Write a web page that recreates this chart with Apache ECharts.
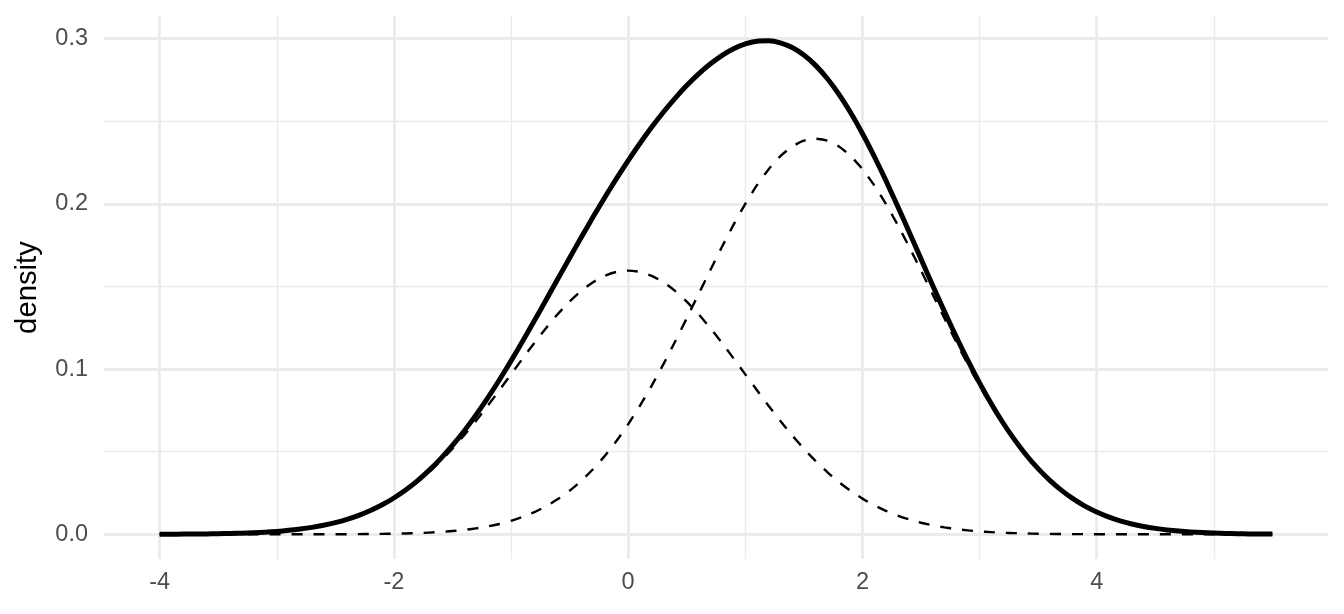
<!DOCTYPE html>
<html>
<head>
<meta charset="utf-8">
<script src="https://cdn.jsdelivr.net/npm/echarts@6/dist/echarts.min.js"></script>
<style>
html,body{margin:0;padding:0;background:#fff;}
#chart{width:1344px;height:614px;}
</style>
</head>
<body>
<div id="chart"></div>
<script>
// x positions of the sampled curve points
var xValues = [
  -4.0, -3.9, -3.8, -3.7, -3.6, -3.5, -3.4, -3.3, -3.2, -3.1,
  -3.0, -2.9, -2.8, -2.7, -2.6, -2.5, -2.4, -2.3, -2.2, -2.1,
  -2.0, -1.9, -1.8, -1.7, -1.6, -1.5, -1.4, -1.3, -1.2, -1.1,
  -1.0, -0.9, -0.8, -0.7, -0.6, -0.5, -0.4, -0.3, -0.2, -0.1,
  0.0, 0.1, 0.2, 0.3, 0.4, 0.5, 0.6, 0.7, 0.8, 0.9,
  1.0, 1.1, 1.2, 1.3, 1.4, 1.5, 1.6, 1.7, 1.8, 1.9,
  2.0, 2.1, 2.2, 2.3, 2.4, 2.5, 2.6, 2.7, 2.8, 2.9,
  3.0, 3.1, 3.2, 3.3, 3.4, 3.5, 3.6, 3.7, 3.8, 3.9,
  4.0, 4.1, 4.2, 4.3, 4.4, 4.5, 4.6, 4.7, 4.8, 4.9,
  5.0, 5.1, 5.2, 5.3, 5.4, 5.5];
// total mixture density (solid)
var totalDensity = [
  0.00005, 0.00008, 0.00012, 0.00017, 0.00024, 0.00035, 0.00049, 0.00069, 0.00095, 0.00131,
  0.00177, 0.00239, 0.00318, 0.00419, 0.00547, 0.00706, 0.00904, 0.01145, 0.01437, 0.01785,
  0.02197, 0.02677, 0.03232, 0.03865, 0.04580, 0.05377, 0.06255, 0.07212, 0.08242, 0.09339,
  0.10494, 0.11695, 0.12932, 0.14190, 0.15458, 0.16722, 0.17970, 0.19193, 0.20379, 0.21521,
  0.22613, 0.23649, 0.24626, 0.25538, 0.26382, 0.27154, 0.27847, 0.28455, 0.28970, 0.29378,
  0.29673, 0.29838, 0.29863, 0.29738, 0.29452, 0.28998, 0.28374, 0.27579, 0.26621, 0.25508,
  0.24256, 0.22883, 0.21413, 0.19868, 0.18278, 0.16666, 0.15061, 0.13488, 0.11968, 0.10520,
  0.09161, 0.07902, 0.06750, 0.05712, 0.04786, 0.03972, 0.03263, 0.02656, 0.02141, 0.01708,
  0.01349, 0.01056, 0.00817, 0.00627, 0.00476, 0.00358, 0.00266, 0.00196, 0.00143, 0.00103,
  0.00074, 0.00052, 0.00037, 0.00026, 0.00018, 0.00012];
// first component (dashed, centred at 0)
var component1 = [
  0.00005, 0.00008, 0.00012, 0.00017, 0.00024, 0.00035, 0.00049, 0.00069, 0.00095, 0.00131,
  0.00177, 0.00238, 0.00317, 0.00417, 0.00543, 0.00701, 0.00896, 0.01133, 0.01419, 0.01759,
  0.02160, 0.02625, 0.03158, 0.03762, 0.04437, 0.05181, 0.05989, 0.06855, 0.07767, 0.08714,
  0.09679, 0.10643, 0.11588, 0.12490, 0.13329, 0.14083, 0.14731, 0.15256, 0.15642, 0.15878,
  0.15958, 0.15878, 0.15642, 0.15256, 0.14731, 0.14083, 0.13329, 0.12490, 0.11588, 0.10643,
  0.09679, 0.08714, 0.07767, 0.06855, 0.05989, 0.05181, 0.04437, 0.03762, 0.03158, 0.02625,
  0.02160, 0.01759, 0.01419, 0.01133, 0.00896, 0.00701, 0.00543, 0.00417, 0.00317, 0.00238,
  0.00177, 0.00131, 0.00095, 0.00069, 0.00049, 0.00035, 0.00024, 0.00017, 0.00012, 0.00008,
  0.00005, 0.00004, 0.00002, 0.00002, 0.00001, 0.00001, 0, 0, 0, 0,
  0, 0, 0, 0, 0, 0];
// second component (dashed, centred near 1.6)
var component2 = [
  0, 0, 0, 0, 0, 0, 0, 0, 0, 0,
  0, 0.00001, 0.00001, 0.00002, 0.00004, 0.00005, 0.00008, 0.00012, 0.00018, 0.00026,
  0.00037, 0.00052, 0.00074, 0.00103, 0.00143, 0.00196, 0.00266, 0.00357, 0.00475, 0.00625,
  0.00815, 0.01052, 0.01344, 0.01700, 0.02129, 0.02639, 0.03239, 0.03937, 0.04737, 0.05643,
  0.06655, 0.07771, 0.08984, 0.10282, 0.11651, 0.13071, 0.14518, 0.15965, 0.17382, 0.18735,
  0.19994, 0.21124, 0.22096, 0.22883, 0.23463, 0.23817, 0.23937, 0.23817, 0.23463, 0.22883,
  0.22096, 0.21124, 0.19994, 0.18735, 0.17382, 0.15965, 0.14518, 0.13071, 0.11651, 0.10282,
  0.08984, 0.07771, 0.06655, 0.05643, 0.04737, 0.03937, 0.03239, 0.02639, 0.02129, 0.01700,
  0.01344, 0.01052, 0.00815, 0.00625, 0.00475, 0.00357, 0.00266, 0.00196, 0.00143, 0.00103,
  0.00074, 0.00052, 0.00037, 0.00026, 0.00018, 0.00012];
// tick labels / grid positions
var xMajorTicks = [-4, -2, 0, 2, 4];
var xMinorTicks = [-3, -1, 1, 3, 5];
var yMajorTicks = [0, 0.1, 0.2, 0.3];
var yMinorTicks = [0.05, 0.15, 0.25];

function pairs(ys) {
  return xValues.map(function (x, i) { return [x, ys[i]]; });
}

var gridColor = '#EBEBEB';
var gridLines = [];
xMinorTicks.forEach(function (v) { gridLines.push({ xAxis: v, lineStyle: { width: 1.4, color: gridColor, type: 'solid' } }); });
yMinorTicks.forEach(function (v) { gridLines.push({ yAxis: v, lineStyle: { width: 1.4, color: gridColor, type: 'solid' } }); });
xMajorTicks.forEach(function (v) { gridLines.push({ xAxis: v, lineStyle: { width: 2.8, color: gridColor, type: 'solid' } }); });
yMajorTicks.forEach(function (v) { gridLines.push({ yAxis: v, lineStyle: { width: 2.8, color: gridColor, type: 'solid' } }); });

var chart = echarts.init(document.getElementById('chart'), null, { renderer: 'canvas' });
var labelFont = 'Liberation Sans, Arial, Helvetica, sans-serif';
chart.setOption({
  animation: false,
  backgroundColor: '#ffffff',
  grid: { left: 104, right: 16, top: 16, bottom: 55, containLabel: false, outerBoundsMode: 'none' },
  xAxis: {
    type: 'value',
    min: -4.475,
    max: 5.975,
    axisLine: { show: false },
    axisTick: { show: false },
    splitLine: { show: false },
    axisLabel: {
      customValues: xMajorTicks,
      color: '#4D4D4D',
      fontSize: 23.5,
      fontFamily: labelFont,
      margin: 12,
      showMinLabel: true,
      showMaxLabel: true,
      formatter: function (v) { return String(v); }
    }
  },
  yAxis: {
    type: 'value',
    min: -0.01494,
    max: 0.31362,
    name: 'density',
    nameLocation: 'middle',
    nameGap: 62,
    nameTextStyle: { color: '#000000', fontSize: 29.3, fontFamily: labelFont },
    axisLine: { show: false },
    axisTick: { show: false },
    splitLine: { show: false },
    axisLabel: {
      customValues: yMajorTicks,
      color: '#4D4D4D',
      fontSize: 23.5,
      fontFamily: labelFont,
      margin: 16,
      formatter: function (v) { return v.toFixed(1); }
    }
  },
  series: [
    {
      type: 'line',
      name: 'grid',
      data: [],
      z: 0,
      silent: true,
      markLine: {
        z: 0,
        silent: true,
        symbol: ['none', 'none'],
        label: { show: false },
        emphasis: { disabled: true },
        animation: false,
        data: gridLines
      }
    },
    {
      type: 'line', name: 'component1', data: pairs(component1), z: 3,
      showSymbol: false, smooth: 0.2, silent: true,
      lineStyle: { color: '#000000', width: 2.4, type: [11, 11], join: 'round' }
    },
    {
      type: 'line', name: 'component2', data: pairs(component2), z: 3,
      showSymbol: false, smooth: 0.2, silent: true,
      lineStyle: { color: '#000000', width: 2.4, type: [11, 11], join: 'round' }
    },
    {
      type: 'line', name: 'total', data: pairs(totalDensity), z: 4,
      showSymbol: false, smooth: 0.2, silent: true,
      lineStyle: { color: '#000000', width: 5, join: 'round' }
    }
  ]
});
</script>
</body>
</html>
